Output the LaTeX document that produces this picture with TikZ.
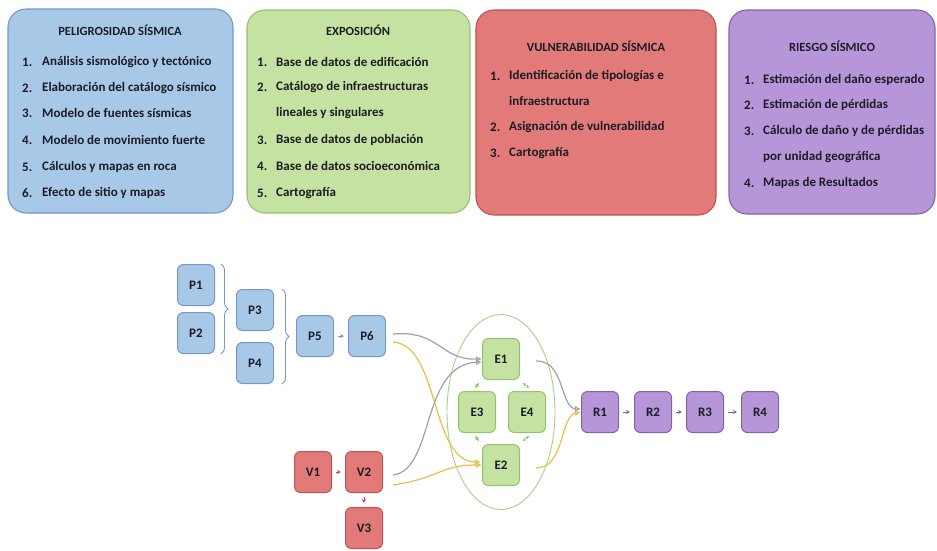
\documentclass[tikz,border=0pt]{standalone}
\usepackage{fontspec}
\setmainfont{Carlito}
\usetikzlibrary{arrows.meta,calc,decorations.pathreplacing,shapes.geometric}
\definecolor{bfill}{RGB}{168,200,232}
\definecolor{bdraw}{RGB}{118,152,196}
\definecolor{gfill}{RGB}{198,226,162}
\definecolor{gdraw}{RGB}{146,196,108}
\definecolor{rfill}{RGB}{226,122,122}
\definecolor{rdraw}{RGB}{192,82,80}
\definecolor{pfill}{RGB}{182,150,216}
\definecolor{pdraw}{RGB}{130,100,166}
\definecolor{txt}{RGB}{28,28,36}
\definecolor{grayc}{RGB}{160,160,172}
\definecolor{goldc}{RGB}{232,192,70}
\tikzset{
  bigbox/.style={draw, line width=1.1pt, rounded corners=18pt, inner sep=0pt, outer sep=0pt},
  title/.style={inner sep=0pt, text=txt, font=\bfseries\fontsize{12.5}{14}\selectfont},
  item/.style={inner sep=0pt, anchor=west, text=txt, font=\bfseries\fontsize{13}{15}\selectfont},
  sbox/.style={draw, line width=1pt, rounded corners=6pt, minimum width=37pt, minimum height=41pt, inner sep=0pt, text=txt, font=\bfseries\fontsize{13}{15}\selectfont},
  pbox/.style={sbox, fill=bfill, draw=bdraw},
  ebox/.style={sbox, fill=gfill, draw=gdraw},
  vbox/.style={sbox, fill=rfill, draw=rdraw},
  rbox/.style={sbox, fill=pfill, draw=pdraw},
  small/.style={line width=0.9pt, -{Stealth[length=4pt,width=4pt]}, shorten <=4pt, shorten >=4pt},
  curvg/.style={line width=1.2pt, draw=grayc, -{Latex[length=6pt,width=6pt,open]}},
  curvy/.style={line width=1.2pt, draw=goldc, -{Latex[length=6pt,width=6pt,open]}},
  gdash/.style={line width=1pt, draw=gdraw, dashed, dash pattern=on 2pt off 1.5pt, {Stealth[length=3.5pt,width=3.5pt]}-{Stealth[length=3.5pt,width=3.5pt]}},
  brc/.style={draw=bdraw, line width=0.9pt, decorate, decoration={brace, amplitude=7pt}}
}
\begin{document}
\begin{tikzpicture}[x=1pt,y=-1pt]
\useasboundingbox (0,0) rectangle (937,550);
% top boxes
\node[bigbox, fill=bfill, draw=bdraw, minimum width=225pt, minimum height=204pt] (pel) at (120.5,111) {};
\node[bigbox, fill=gfill, draw=gdraw, minimum width=223pt, minimum height=203pt] (exp) at (358.5,111.5) {};
\node[bigbox, fill=rfill, draw=rdraw, minimum width=240pt, minimum height=205pt] (vul) at (596,112.5) {};
\node[bigbox, fill=pfill, draw=pdraw, minimum width=206pt, minimum height=204pt] (rie) at (832,112) {};

\node[title] (pelT) at (120,30) {PELIGROSIDAD SÍSMICA};
\node[title] (expT) at (358,30) {EXPOSICIÓN};
\node[title] (vulT) at (596,46) {VULNERABILIDAD SÍSMICA};
\node[title] (rieT) at (832,46) {RIESGO SÍSMICO};

\foreach \i/\y/\t in {1/62/Análisis sismológico  y tectónico, 2/88/Elaboración  del catálogo sísmico, 3/113/Modelo de fuentes sísmicas, 4/140/Modelo de movimiento fuerte, 5/167/Cálculos y mapas en roca, 6/193/Efecto de sitio y mapas}{
  \node[item] (pn\i) at (22,\y) {\i.};
  \node[item] (pt\i) at (42,\y) {\t};
}
\foreach \i/\y/\t in {1/62/Base de datos de edificación, 2/87/Catálogo de infraestructuras, 3/140/Base de datos de población, 4/166/Base de datos socioeconómica, 5/193/Cartografía}{
  \node[item] (en\i) at (257,\y) {\i.};
  \node[item] (et\i) at (276,\y) {\t};
}
\node[item] (et2b) at (276,113) {lineales y singulares};
\foreach \i/\y/\t in {1/76/Identificación de tipologías e, 2/127/Asignación de vulnerabilidad, 3/153/Cartografía}{
  \node[item] (vn\i) at (490,\y) {\i.};
  \node[item] (vt\i) at (509,\y) {\t};
}
\node[item] (vt1b) at (509,101) {infraestructura};
\foreach \i/\y/\t in {1/80/Estimación del daño esperado, 2/105/Estimación de pérdidas, 3/131/Cálculo de daño y de pérdidas, 4/183/Mapas de Resultados}{
  \node[item] (rn\i) at (744,\y) {\i.};
  \node[item] (rt\i) at (763,\y) {\t};
}
\node[item] (rt3b) at (763,157) {por unidad geográfica};

% bottom diagram
\node[draw=gdraw!80, line width=0.9pt, ellipse, minimum width=108pt, minimum height=195pt, inner sep=0pt] (ell) at (501,412) {};
\node[pbox] (P1) at (196,285) {P1};
\node[pbox] (P2) at (196,333) {P2};
\node[pbox] (P3) at (255,310) {P3};
\node[pbox] (P4) at (255,363) {P4};
\node[pbox] (P5) at (315,336) {P5};
\node[pbox] (P6) at (367,336) {P6};
\node[ebox] (E1) at (501,359) {E1};
\node[ebox] (E3) at (477,412) {E3};
\node[ebox] (E4) at (527,412) {E4};
\node[ebox] (E2) at (501,465) {E2};
\node[vbox] (V1) at (313,472) {V1};
\node[vbox] (V2) at (364,472) {V2};
\node[vbox] (V3) at (364,528) {V3};
\node[rbox] (R1) at (600,412) {R1};
\node[rbox] (R2) at (653,412) {R2};
\node[rbox] (R3) at (705,412) {R3};
\node[rbox] (R4) at (760,412) {R4};

\draw[brc] ($(P1.north east)+(6,0)$) -- ($(P2.south east)+(6,0)$);
\draw[brc] ($(P3.north east)+(8,0)$) -- ($(P4.south east)+(8,0)$);

\draw[small, draw=bdraw] (P5) -- (P6);
\draw[small, draw=rdraw] (V1) -- (V2);
\draw[small, draw=rdraw] (V2) -- (V3);
\draw[small, draw=pdraw] (R1) -- (R2);
\draw[small, draw=pdraw] (R2) -- (R3);
\draw[small, draw=pdraw] (R3) -- (R4);

\draw[gdash] ($(E1.south west)+(-3,3)$) -- ($(E3.north)+(-2,-3)$);
\draw[gdash] ($(E1.south east)+(3,3)$) -- ($(E4.north)+(2,-3)$);
\draw[gdash] ($(E3.south)+(-2,3)$) -- ($(E2.north west)+(-3,-3)$);
\draw[gdash] ($(E4.south)+(2,3)$) -- ($(E2.north east)+(3,-3)$);

\draw[curvy] ($(P6.east)+(7,6)$) .. controls (440,345) and (430,462) .. ($(E2.west)+(-1,-3)$);
\draw[curvg] ($(P6.east)+(7,-2)$) .. controls (440,330) and (440,360) .. (E1.west);
\draw[curvg] ($(V2.east)+(10,3)$) .. controls (435,470) and (420,365) .. ($(E1.west)+(0,3)$);
\draw[curvy] ($(V2.east)+(10,13)$) .. controls (440,478) and (440,465) .. ($(E2.west)+(0,0)$);
\draw[curvg] ($(E1.east)+(16,2)$) .. controls (565,360) and (560,408) .. ($(R1.west)+(0,-3)$);
\draw[curvy] ($(E2.east)+(16,3)$) .. controls (565,468) and (560,416) .. ($(R1.west)+(0,0)$);
\end{tikzpicture}
\end{document}
